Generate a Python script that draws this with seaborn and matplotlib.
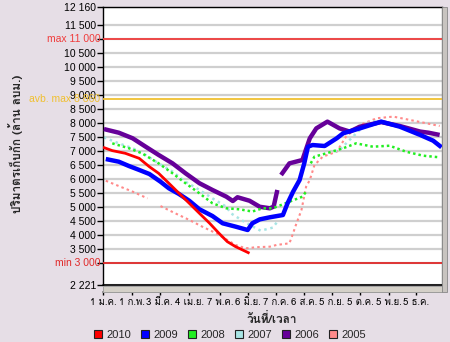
import numpy as np
import pandas as pd
import seaborn as sns
import matplotlib
matplotlib.use("Agg")
import matplotlib.pyplot as plt
import matplotlib.transforms as mtransforms
from matplotlib.patches import Patch, Rectangle

nan = np.nan

# ---------------- data (day of year, storage in million m3) ----------------
days_2010 = [0, 10, 24, 39, 50, 60, 71, 82, 93, 104, 115, 125, 134, 143, 158]
vals_2010 = [7140, 7020, 6925, 6745, 6445, 6210, 5855, 5495, 5140, 4780, 4425, 4070, 3770, 3590, 3355]

days_2009 = [3, 17, 28, 39, 50, 62, 71, 82, 93, 104, 118, 129, 143, 156, 161, 169, 180, 194, 199,
             205, 212, 217, 221, 226, 239, 252, 259, 277, 300, 320, 342, 356, 365]
vals_2009 = [6720, 6625, 6470, 6330, 6185, 5910, 5675, 5470, 5230, 4925, 4685, 4425, 4305, 4185, 4425,
             4565, 4640, 4720, 5140, 5555, 5970, 6565, 7160, 7220, 7185, 7460, 7640, 7815, 8055, 7875,
             7580, 7375, 7140]

days_2008 = [10, 28, 42, 60, 75, 89, 104, 118, 133, 147, 161, 172, 183, 201, 215, 219, nan, 224, 228,
             241, 259, 273, 291, 309, 327, 345, 363]
vals_2008 = [7280, 7105, 6925, 6565, 6210, 5855, 5495, 5140, 4960, 4925, 4845, 4960, 4960, 5195, 5375,
             5555, nan, 6565, 6805, 6925, 7105, 7280, 7160, 7195, 6980, 6840, 6780]

days_2007 = [1, 17, 32, 46, 60, 75, 89, 104, 118, 133, 138, 154, 170, 183, 188, nan, 250, 255, 264,
             277, 288, 300, 320, 342, 356, 365]
vals_2007 = [7495, 7280, 7105, 6865, 6565, 6270, 5910, 5615, 5315, 5015, 4780, 4445, 4160, 4270, 4480,
             nan, 6980, 7040, 7340, 7760, 8055, 8090, 7900, 7600, 7400, 7170]

days_2006 = [1, 17, 32, 46, 60, 75, 89, 104, 118, 133, 140, 145, 158, 169, 180, 184, 188, nan, 192,
             201, 215, 223, 230, 242, 255, 266, 277, 300, 320, 342, 351, 363]
vals_2006 = [7790, 7660, 7460, 7160, 6865, 6565, 6210, 5855, 5615, 5375, 5220, 5355, 5230, 5015, 4960,
             5020, 5615, nan, 6150, 6565, 6685, 7460, 7815, 8055, 7815, 7700, 7875, 8040, 7900, 7700,
             7660, 7580]

days_2005 = [3, 17, 32, 48, nan, 62, 78, 93, 107, 122, 134, 143, 154, 165, 180, 187, 201, 205, 208,
             214, 219, 223, 228, 237, 252, 262, 277, 295, 313, 331, 349, 363]
vals_2005 = [5945, 5755, 5555, 5315, nan, 5040, 4780, 4545, 4305, 4070, 3830, 3650, 3530, 3570, 3590,
             3650, 3710, 4070, 4365, 4900, 5730, 5970, 6505, 6805, 6980, 7520, 7935, 8175, 8235, 8115,
             7995, 7900]

years = ["2010", "2009", "2008", "2007", "2006", "2005"]
series_days = [days_2010, days_2009, days_2008, days_2007, days_2006, days_2005]
series_vals = [vals_2010, vals_2009, vals_2008, vals_2007, vals_2006, vals_2005]

xtick_days = [0, 31, 61, 93, 126, 156, 187, 217, 247, 277, 308, 338]
xtick_labels = ["1 ม.ค.", "1 ก.พ.", "3 มี.ค.", "4 เม.ย.", "7 พ.ค.", "6 มิ.ย.", "7 ก.ค.",
                "6 ส.ค.", "5 ก.ย.", "5 ต.ค.", "5 พ.ย.", "5 ธ.ค."]
ytick_vals = [2221, 3000, 3500, 4000, 4500, 5000, 5500, 6000, 6500, 7000, 7500, 8000, 8500, 9000,
              9500, 10000, 10500, 11000, 11500, 12160]
ref_vals = [11000, 8860, 3000]
ref_labels = ["max 11 000", "avb. max 8 860", "min 3 000"]

x_label = "วันที่/เวลา"
y_label = "ปริมาตรเก็บกัก (ล้าน ลบม.)"

# ---------------- styling ----------------
colors = {"2010": "#FF0000", "2009": "#0000FF", "2008": "#22EE22",
          "2007": "#A8E4E4", "2006": "#660099", "2005": "#FF8A8A"}
widths = {"2010": 2.0, "2009": 3.2, "2008": 1.8, "2007": 1.8, "2006": 3.2, "2005": 1.5}
styles = {"2010": "-", "2009": "-", "2008": (0, (1, 1.2)), "2007": (0, (1, 1.5)),
          "2006": "-", "2005": (0, (1.2, 1.5))}
zorders = {"2010": 6, "2009": 5, "2008": 4, "2007": 2, "2006": 3, "2005": 1}
ref_colors = ["#F03C3C", "#F0C030", "#E02828"]
bg = "#E6DEE6"
thai_first = ["Loma", "Liberation Sans", "DejaVu Sans"]

sns.set_theme(style="white")
plt.rcParams["font.family"] = ["Liberation Sans", "Loma", "DejaVu Sans"]

# build long-form table with segments (split on gaps)
rows = []
for yr, dd, vv in zip(years, series_days, series_vals):
    seg = 0
    for d, v in zip(dd, vv):
        if np.isnan(d):
            seg += 1
            continue
        rows.append({"year": yr, "day": d, "value": v, "seg": seg})
df = pd.DataFrame(rows)

fig = plt.figure(figsize=(4.5, 3.42), dpi=100, facecolor=bg)
ax = fig.add_axes([103 / 450, 1 - 285 / 342, (441.5 - 103) / 450, (285 - 6.7) / 342])
ax.set_facecolor("white")

for yr in years[::-1]:
    sub = df[df["year"] == yr]
    sns.lineplot(data=sub, x="day", y="value", units="seg", estimator=None, ax=ax,
                 color=colors[yr], lw=widths[yr], linestyle=styles[yr], zorder=zorders[yr],
                 legend=False, solid_capstyle="butt")

ax.set_xlim(0, 365)
ax.set_ylim(2221, 12160)

# grid
for v in ytick_vals:
    ax.axhline(v, color="#CFCFCF", lw=1.6, zorder=0)

# reference lines and their labels
lbl_tr = mtransforms.blended_transform_factory(ax.transAxes, ax.transData)
for v, lab, c in zip(ref_vals, ref_labels, ref_colors):
    ax.axhline(v, color=c, lw=1.3, zorder=7)
    ax.text(-0.008, v, lab, transform=lbl_tr, ha="right", va="center", color=c,
            fontsize=7.5, clip_on=False, zorder=10)

ax.set_yticks(ytick_vals)
ax.set_yticklabels(["" if v in (11000, 3000) else f"{v:,}".replace(",", " ") for v in ytick_vals],
                   fontsize=7.5)
ax.tick_params(axis="y", direction="out", length=4, width=1, pad=1, colors="black", left=True)

ax.set_xticks(xtick_days)
ax.tick_params(axis="x", direction="out", length=2.5, width=1, pad=1.8, colors="black", bottom=True)
ax.set_xticklabels(xtick_labels, ha="center")

ax.set_xlabel("")
ax.set_ylabel("")
for s in ["left", "top"]:
    ax.spines[s].set_color("black")
    ax.spines[s].set_linewidth(1)
ax.spines["bottom"].set_position(("outward", 5))
ax.spines["bottom"].set_color("#808080")
ax.spines["right"].set_color("#808080")
ax.spines["right"].set_linewidth(1)
# frame line at axis bottom
ax.axhline(2221, color="black", lw=1.2, zorder=8, clip_on=False)

# shrink tick label font until labels fit their slot (~29 px), measured after a real draw
size = 7.0
while size > 4.5:
    for t in ax.get_xticklabels():
        t.set_fontfamily(thai_first)
        t.set_fontsize(size)
    fig.canvas.draw()
    renderer = fig.canvas.get_renderer()
    wmax = max(t.get_window_extent(renderer).width for t in ax.get_xticklabels())
    if wmax <= 29.5:
        break
    size -= 0.1

# scrollbars (decoration)
fig.patches.append(Rectangle((103 / 450, 1 - 292 / 342), (441.5 - 103) / 450, 6 / 342,
                             transform=fig.transFigure, facecolor="#D4D0C8", edgecolor="#9A9A9A",
                             lw=0.6, zorder=0))
fig.patches.append(Rectangle((442 / 450, 1 - 292 / 342), 5 / 450, (292 - 6.7) / 342,
                             transform=fig.transFigure, facecolor="#C8C4C0", edgecolor="#888888",
                             lw=0.6, zorder=0))

# axis titles
fig.text(272 / 450, 1 - 318 / 342, x_label, ha="center", va="center", fontsize=8.5,
         fontweight="bold", family=thai_first)
fig.text(15 / 450, 1 - 144 / 342, y_label, ha="center", va="center", rotation=90,
         fontsize=8.5, fontweight="bold", family=thai_first)

# legend
handles = [Patch(facecolor=colors[y], edgecolor="#222222", lw=0.8) for y in years]
fig.legend(handles, years, loc="center", bbox_to_anchor=(230 / 450, 1 - 335 / 342), ncol=6,
           frameon=False, fontsize=8, handlelength=0.7, handleheight=0.7, handletextpad=0.4,
           columnspacing=0.9)

fig.savefig("out.png", dpi=100, facecolor=bg)
